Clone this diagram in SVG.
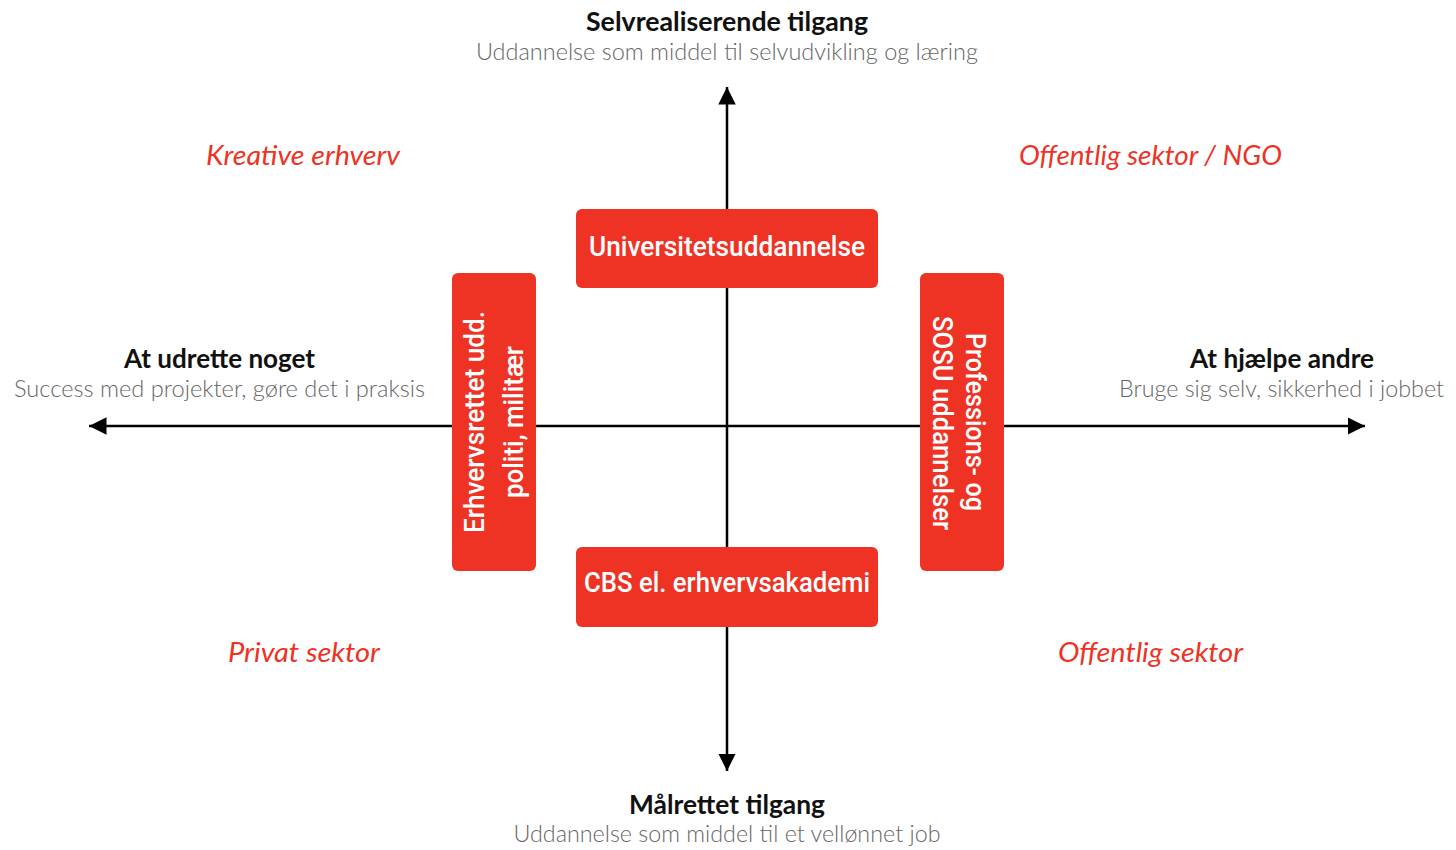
<svg xmlns="http://www.w3.org/2000/svg" width="1456" height="850" viewBox="0 0 1456 850">
<defs>
<style>
.bg{fill:#fff}
.axis{stroke:#000;stroke-width:2.5;fill:none}
.box{fill:#EE3325}
.bt{fill:#fff;font-family:Roboto,"Liberation Sans",sans-serif;font-weight:500;font-size:27px}
.h{fill:#111;font-family:Lato,"Liberation Sans",sans-serif;font-weight:700;font-size:27px;text-anchor:middle}
.s{fill:#666;font-family:Lato,"Liberation Sans",sans-serif;font-weight:300;font-size:24px;text-anchor:middle}
.q{fill:#EE3224;font-family:Lato,"Liberation Sans",sans-serif;font-style:italic;font-weight:400;font-size:27px;text-anchor:middle}
</style>
<marker id="ah" viewBox="0 0 10 10" refX="10" refY="5" markerWidth="7" markerHeight="7" markerUnits="strokeWidth" orient="auto">
<path d="M0,0 L10,5 L0,10 Z" fill="#000"/>
</marker>
</defs>
<rect class="bg" width="1456" height="850"/>
<g id="connectors">
<line class="axis" x1="727" y1="426" x2="727" y2="87" marker-end="url(#ah)"/>
<line class="axis" x1="727" y1="426" x2="727" y2="771" marker-end="url(#ah)"/>
<line class="axis" x1="727" y1="426" x2="89" y2="426" marker-end="url(#ah)"/>
<line class="axis" x1="727" y1="426" x2="1365" y2="426" marker-end="url(#ah)"/>
</g>
<g id="label-top">
<text class="h" x="727" y="31" textLength="282" lengthAdjust="spacingAndGlyphs">Selvrealiserende tilgang</text>
<text class="s" x="727" y="60" textLength="502" lengthAdjust="spacingAndGlyphs">Uddannelse som middel til selvudvikling og læring</text>
</g>
<g id="label-bottom">
<text class="h" x="727" y="814" textLength="196" lengthAdjust="spacingAndGlyphs">Målrettet tilgang</text>
<text class="s" x="727" y="842" textLength="427" lengthAdjust="spacingAndGlyphs">Uddannelse som middel til et vellønnet job</text>
</g>
<g id="label-left">
<text class="h" x="219.5" y="368" textLength="191" lengthAdjust="spacingAndGlyphs">At udrette noget</text>
<text class="s" x="219.5" y="397" textLength="411" lengthAdjust="spacingAndGlyphs">Success med projekter, gøre det i praksis</text>
</g>
<g id="label-right">
<text class="h" x="1282" y="368" textLength="184" lengthAdjust="spacingAndGlyphs">At hjælpe andre</text>
<text class="s" x="1281.5" y="397" textLength="325" lengthAdjust="spacingAndGlyphs">Bruge sig selv, sikkerhed i jobbet</text>
</g>
<g id="q-kreative"><text class="q" x="303" y="165" textLength="194" lengthAdjust="spacingAndGlyphs">Kreative erhverv</text></g>
<g id="q-offentlig-ngo"><text class="q" x="1150.5" y="165" textLength="263" lengthAdjust="spacingAndGlyphs">Offentlig sektor / NGO</text></g>
<g id="q-privat"><text class="q" x="304" y="662" textLength="152" lengthAdjust="spacingAndGlyphs">Privat sektor</text></g>
<g id="q-offentlig"><text class="q" x="1150.5" y="662" textLength="185" lengthAdjust="spacingAndGlyphs">Offentlig sektor</text></g>
<g id="box-universitet">
<rect class="box" x="576" y="209" width="302" height="79" rx="6"/>
<text class="bt" x="727" y="256" text-anchor="middle" textLength="276" lengthAdjust="spacingAndGlyphs">Universitetsuddannelse</text>
</g>
<g id="box-cbs">
<rect class="box" x="576" y="547" width="302" height="80" rx="6"/>
<text class="bt" x="727" y="592" text-anchor="middle" textLength="286" lengthAdjust="spacingAndGlyphs">CBS el. erhvervsakademi</text>
</g>
<g id="box-erhverv">
<rect class="box" x="452" y="273" width="84" height="298" rx="6"/>
<text class="bt" transform="translate(484,422) rotate(-90)" text-anchor="middle" textLength="222" lengthAdjust="spacingAndGlyphs">Erhvervsrettet udd.</text>
<text class="bt" transform="translate(523,422) rotate(-90)" text-anchor="middle" textLength="152" lengthAdjust="spacingAndGlyphs">politi, militær</text>
</g>
<g id="box-professions">
<rect class="box" x="920" y="273" width="84" height="298" rx="6"/>
<text class="bt" transform="translate(966,422) rotate(90)" text-anchor="middle" textLength="178" lengthAdjust="spacingAndGlyphs">Professions- og</text>
<text class="bt" transform="translate(933,423) rotate(90)" text-anchor="middle" textLength="214" lengthAdjust="spacingAndGlyphs">SOSU uddannelser</text>
</g>
</svg>
